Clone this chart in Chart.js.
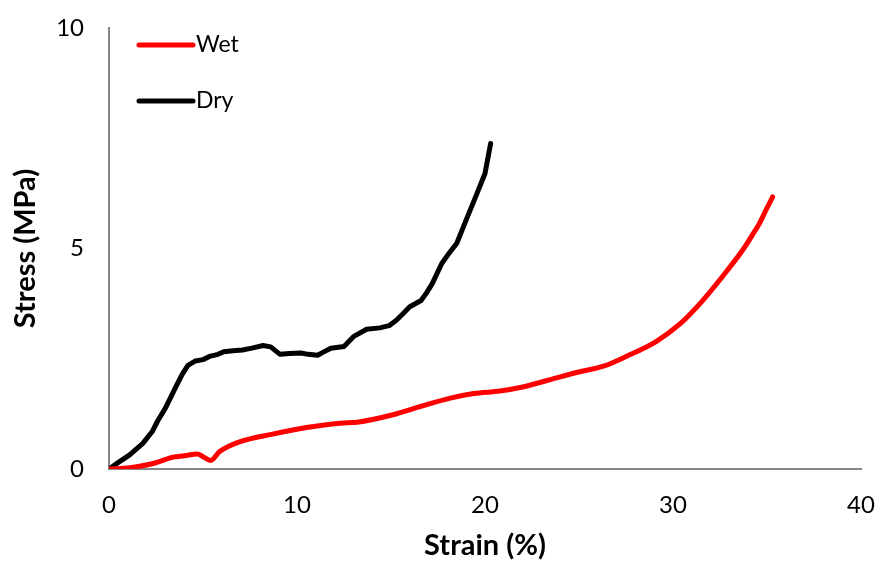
<!DOCTYPE html>
<html>
<head>
<meta charset="utf-8">
<script src="https://cdn.jsdelivr.net/npm/chart.js@4/dist/chart.umd.min.js"></script>
<style>
  html, body { margin: 0; padding: 0; background: #fff; }
  #wrap { width: 876px; height: 563px; }
</style>
</head>
<body>
<div id="wrap"><canvas id="chart" width="876" height="563"></canvas></div>
<script>
// Stress-strain curves, wet vs dry
const dryStrain = [0, 0.5, 1.1, 1.8, 2.3, 2.6, 3.0, 3.3, 3.6, 3.9, 4.2, 4.6, 5.0, 5.4, 5.8, 6.1, 6.6, 7.1, 7.6, 8.2, 8.6, 9.1, 9.6, 10.2, 10.6, 11.1, 11.4, 11.8, 12.5, 13.0, 13.7, 14.4, 14.9, 15.3, 15.7, 16.0, 16.6, 16.9, 17.2, 17.7, 18.1, 18.5, 19.0, 19.5, 20.0, 20.3];
const dryStress = [0, 0.15, 0.32, 0.58, 0.85, 1.1, 1.38, 1.64, 1.9, 2.15, 2.35, 2.45, 2.48, 2.56, 2.6, 2.66, 2.68, 2.7, 2.74, 2.8, 2.77, 2.6, 2.62, 2.63, 2.6, 2.58, 2.65, 2.74, 2.78, 3.0, 3.17, 3.2, 3.25, 3.38, 3.55, 3.68, 3.82, 4.0, 4.21, 4.66, 4.9, 5.12, 5.65, 6.17, 6.7, 7.38];

const wetStrain = [0, 0.6, 1.3, 2.4, 3.4, 4.0, 4.7, 5.0, 5.4, 5.9, 6.9, 8.7, 10.5, 12.3, 13.2, 15.1, 16.5, 18.1, 19.4, 20.8, 22.0, 24.0, 25.1, 26.3, 27.5, 29.1, 30.4, 31.6, 32.9, 33.7, 34.3, 34.6, 35.0, 35.3];
const wetStress = [0, 0.01, 0.04, 0.13, 0.27, 0.3, 0.34, 0.28, 0.19, 0.4, 0.61, 0.79, 0.94, 1.04, 1.06, 1.23, 1.41, 1.6, 1.71, 1.77, 1.86, 2.09, 2.21, 2.33, 2.55, 2.89, 3.30, 3.83, 4.51, 4.96, 5.36, 5.57, 5.92, 6.17];

const xTicks = [0, 10, 20, 30, 40];
const yTicks = [0, 5, 10];

const seriesLabels = ['Wet', 'Dry'];
const seriesColors = ['#ff0000', '#000000'];

const FONT = 'Lato, "Open Sans", "Liberation Sans", sans-serif';

function toPoints(xs, ys) {
    return xs.map((x, i) => ({ x: x, y: ys[i] }));
}

// legend drawn inside the plot, top-left
const insideLegend = {
    id: 'insideLegend',
    afterDraw(chart) {
        const ctx = chart.ctx;
        const area = chart.chartArea;
        ctx.save();
        chart.data.datasets.forEach((ds, i) => {
            const y = area.top + 17 + i * 56;
            const x0 = area.left + 30;
            ctx.strokeStyle = ds.borderColor;
            ctx.lineWidth = 5;
            ctx.lineCap = 'round';
            ctx.beginPath();
            ctx.moveTo(x0, y);
            ctx.lineTo(x0 + 54, y);
            ctx.stroke();
            ctx.fillStyle = '#000';
            ctx.font = '23px ' + FONT;
            ctx.textBaseline = 'middle';
            ctx.textAlign = 'left';
            ctx.fillText(ds.label, x0 + 57, y);
        });
        ctx.restore();
    }
};

new Chart(document.getElementById('chart').getContext('2d'), {
    type: 'line',
    data: {
        datasets: [
            {
                label: seriesLabels[0],
                data: toPoints(wetStrain, wetStress),
                borderColor: seriesColors[0],
                borderWidth: 5,
                borderCapStyle: 'round',
                borderJoinStyle: 'round',
                pointRadius: 0,
                cubicInterpolationMode: 'monotone',
                fill: false
            },
            {
                label: seriesLabels[1],
                data: toPoints(dryStrain, dryStress),
                borderColor: seriesColors[1],
                borderWidth: 5,
                borderCapStyle: 'round',
                borderJoinStyle: 'round',
                pointRadius: 0,
                tension: 0,
                fill: false
            }
        ]
    },
    options: {
        responsive: false,
        animation: false,
        layout: { padding: { left: 0, right: 15, top: 28, bottom: 0 } },
        plugins: {
            legend: { display: false },
            tooltip: { enabled: false }
        },
        scales: {
            x: {
                type: 'linear',
                min: 0,
                max: 40,
                afterFit(scale) {
                    scale.height = 94;
                    scale.paddingLeft = 0;
                    scale.paddingRight = 0;
                },
                afterBuildTicks(scale) { scale.ticks = xTicks.map(v => ({ value: v })); },
                grid: { display: false, drawTicks: false },
                border: { display: true, color: '#868686', width: 2 },
                ticks: { color: '#000', padding: 22, font: { family: FONT, size: 24 } },
                title: {
                    display: true,
                    text: 'Strain (%)',
                    color: '#000',
                    font: { family: FONT, size: 29, weight: 'bold' },
                    padding: { top: 0, bottom: 0 }
                }
            },
            y: {
                type: 'linear',
                min: 0,
                max: 10,
                afterFit(scale) {
                    scale.width = 109;
                    scale.paddingTop = 0;
                    scale.paddingBottom = 0;
                },
                afterBuildTicks(scale) { scale.ticks = yTicks.map(v => ({ value: v })); },
                grid: { display: false, drawTicks: false },
                border: { display: true, color: '#868686', width: 2 },
                ticks: { color: '#000', padding: 25, font: { family: FONT, size: 24 } },
                title: {
                    display: true,
                    text: 'Stress (MPa)',
                    color: '#000',
                    font: { family: FONT, size: 29, weight: 'bold' },
                    padding: { top: 8, bottom: 0 }
                }
            }
        }
    },
    plugins: [insideLegend]
});
</script>
</body>
</html>
